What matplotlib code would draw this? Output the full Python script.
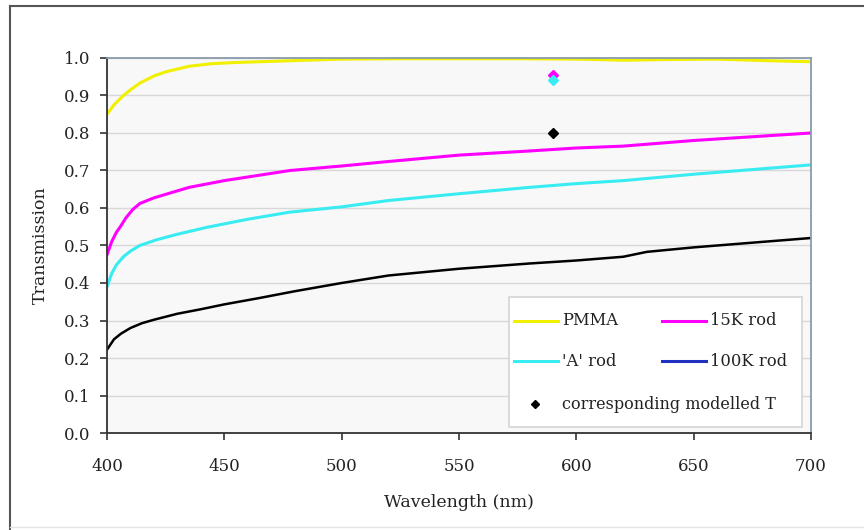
import matplotlib
matplotlib.use("Agg")
import matplotlib.pyplot as plt
from matplotlib.lines import Line2D
from matplotlib.patches import Rectangle

plt.rcParams["font.family"] = ["DejaVu Serif"]

# measured transmission spectra
wl_pmma = [400, 403, 407, 410, 414, 420, 425, 435, 445, 455, 475, 500, 525, 550, 575, 600, 620, 640, 660, 680, 700]
t_pmma = [0.85, 0.875, 0.90, 0.915, 0.933, 0.952, 0.963, 0.978, 0.985, 0.988, 0.992, 0.997, 0.998, 0.998, 0.998, 0.997, 0.994, 0.996, 0.997, 0.993, 0.99]

wl_15k = [400, 402, 404, 406, 408, 411, 414, 420, 435, 450, 478, 500, 520, 550, 580, 600, 620, 650, 680, 700]
t_15k = [0.475, 0.51, 0.535, 0.553, 0.573, 0.596, 0.612, 0.627, 0.655, 0.673, 0.70, 0.712, 0.724, 0.741, 0.752, 0.76, 0.765, 0.78, 0.792, 0.80]

wl_a = [400, 402, 404, 407, 410, 414, 421, 430, 443, 460, 478, 500, 520, 550, 580, 600, 620, 650, 680, 700]
t_a = [0.39, 0.425, 0.448, 0.47, 0.485, 0.5, 0.515, 0.53, 0.549, 0.57, 0.589, 0.603, 0.62, 0.638, 0.655, 0.665, 0.673, 0.69, 0.705, 0.715]

wl_100k = [400, 403, 406, 410, 415, 420, 430, 440, 450, 465, 480, 500, 520, 550, 580, 600, 620, 630, 650, 680, 700]
t_100k = [0.222, 0.25, 0.265, 0.28, 0.293, 0.302, 0.318, 0.33, 0.343, 0.36, 0.378, 0.4, 0.42, 0.438, 0.452, 0.46, 0.47, 0.483, 0.495, 0.51, 0.52]

# modelled values at 590 nm
model_wl = 590
model_t = [0.955, 0.94, 0.80]

YELLOW = "#f0f000"
MAGENTA = "#ff00ff"
CYAN = "#38ecf2"
BLUE = "#2030c0"
model_colors = [MAGENTA, CYAN, "black"]

fig = plt.figure(figsize=(8.64, 5.30), dpi=100)
ax = fig.add_axes([0.1238, 0.183, 0.8149, 0.7076])
ax.set_facecolor("#f8f8f8")

ax.plot(wl_pmma, t_pmma, color=YELLOW, lw=2.2)
ax.plot(wl_15k, t_15k, color=MAGENTA, lw=2.2)
ax.plot(wl_a, t_a, color=CYAN, lw=2.2)
ax.plot(wl_100k, t_100k, color="black", lw=1.8)
for t, c in zip(model_t, model_colors):
    ax.plot([model_wl], [t], marker="D", ms=5.5, color=c, ls="none")

ax.set_xlim(400, 700)
ax.set_ylim(0, 1.0)
ax.set_xticks(range(400, 701, 50))
ax.set_yticks([i / 10 for i in range(11)])
ax.yaxis.set_major_formatter(matplotlib.ticker.FormatStrFormatter("%.1f"))
ax.grid(axis="y", color="#d8d8d8", lw=1)
ax.set_axisbelow(True)
ax.tick_params(direction="out", length=5, width=1.2, labelsize=12, colors="#333333",
               labelcolor="#222222")
ax.tick_params(axis="x", pad=13)
ax.tick_params(axis="y", pad=7)
for side in ("left", "bottom"):
    ax.spines[side].set_color("#333333")
    ax.spines[side].set_linewidth(1.3)
for side in ("top", "right"):
    ax.spines[side].set_color("#8a9aaa")
    ax.spines[side].set_linewidth(1.3)

ax.set_xlabel("Wavelength (nm)", fontsize=12.5, color="#222222")
ax.set_ylabel("Transmission", fontsize=12.5, color="#222222")
ax.xaxis.set_label_coords(0.5, -0.162)
ax.yaxis.set_label_coords(-0.083, 0.5)

# legend box drawn by hand: two columns of series, then the modelled-point row
ax.add_patch(Rectangle((0.571, 0.016), 0.416, 0.347, transform=ax.transAxes,
                       facecolor="white", edgecolor="#d4d4d4", lw=1.2, zorder=4))
legend_rows = [
    (0.299, [(0.578, YELLOW, "PMMA"), (0.788, MAGENTA, "15K rod")]),
    (0.192, [(0.578, CYAN, "'A' rod"), (0.788, BLUE, "100K rod")]),
]
for y, entries in legend_rows:
    for x0, color, label in entries:
        ax.add_line(Line2D([x0, x0 + 0.063], [y, y], color=color, lw=2.2,
                           transform=ax.transAxes, zorder=5))
        ax.text(x0 + 0.068, y, label, transform=ax.transAxes, fontsize=11.8,
                va="center", ha="left", color="#222222", zorder=5)
ax.plot([0.608], [0.077], marker="D", ms=4, color="black", ls="none",
        transform=ax.transAxes, zorder=5)
ax.text(0.646, 0.077, "corresponding modelled T", transform=ax.transAxes,
        fontsize=11.5, va="center", ha="left", color="#222222", zorder=5)

# outer chart border
fig.add_artist(Line2D([10 / 864, 10 / 864], [0, 1 - 6 / 530], color="#555555", lw=1.5,
                      transform=fig.transFigure))
fig.add_artist(Line2D([10 / 864, 1], [1 - 6 / 530, 1 - 6 / 530], color="#555555", lw=1.5,
                      transform=fig.transFigure))
fig.add_artist(Line2D([10 / 864, 1], [3 / 530, 3 / 530], color="#e4e4e4", lw=1,
                      transform=fig.transFigure))

fig.savefig("out.png", dpi=100)
